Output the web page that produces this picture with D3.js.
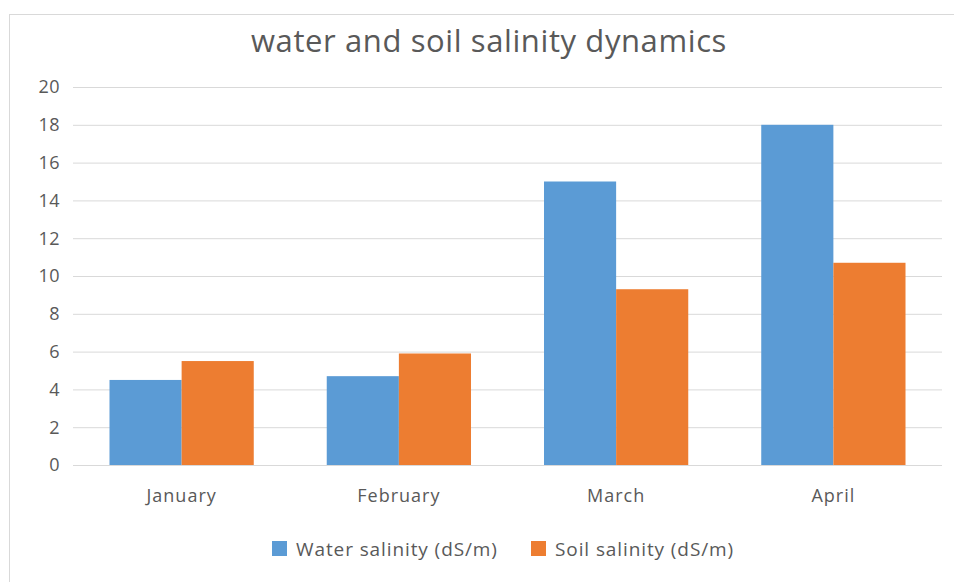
<html>
<head>
<meta charset="utf8">
<script src="https://cdn.jsdelivr.net/npm/d3@7"></script>
<style>
body { margin: 0; background: #fff; }
text { font-family: "Open Sans", "Noto Sans", sans-serif; }
</style>
</head>
<body>
<div id="canvas"></div>
<script>
const months = ["January", "February", "March", "April"];
const seriesNames = ["Water salinity (dS/m)", "Soil salinity (dS/m)"];
const water = [4.5, 4.7, 15, 18];
const soil = [5.5, 5.9, 9.3, 10.7];
const yTicks = [0, 2, 4, 6, 8, 10, 12, 14, 16, 18, 20];
const colors = ["#5b9bd5", "#ed7d31"];

const W = 954, H = 582;
const svg = d3.select("#canvas").append("svg")
    .attr("width", W)
    .attr("height", H);

// chart frame
svg.append("rect")
    .attr("x", 9.5).attr("y", 14.5)
    .attr("width", W).attr("height", H)
    .attr("fill", "#fff")
    .attr("stroke", "#d9d9d9");

const xScale = d3.scaleBand()
    .domain(months)
    .range([73, 942])
    .paddingInner(0.336)
    .paddingOuter(0.168);

const yScale = d3.scaleLinear()
    .domain([0, 20])
    .range([465, 87]);

const sub = d3.scaleBand()
    .domain([0, 1])
    .range([0, xScale.bandwidth()]);

// gridlines
svg.append("g")
    .selectAll("line")
    .data(yTicks)
    .join("line")
    .attr("x1", 73).attr("x2", 942)
    .attr("y1", d => yScale(d) + 0.5)
    .attr("y2", d => yScale(d) + 0.5)
    .attr("stroke", "#d9d9d9")
    .attr("stroke-width", 1);

// y labels
svg.append("g")
    .selectAll("text")
    .data(yTicks)
    .join("text")
    .attr("x", 60)
    .attr("y", d => yScale(d))
    .attr("dy", "0.35em")
    .attr("text-anchor", "end")
    .attr("font-size", "18px")
    .attr("letter-spacing", "0.5px")
    .attr("fill", "#595959")
    .text(d => d);

// bars
const series = [water, soil];
series.forEach((vals, s) => {
    svg.append("g")
        .selectAll("rect")
        .data(vals)
        .join("rect")
        .attr("x", (d, i) => xScale(months[i]) + sub(s))
        .attr("y", d => yScale(d))
        .attr("width", sub.bandwidth())
        .attr("height", d => yScale(0) - yScale(d))
        .attr("fill", colors[s]);
});

// x labels
svg.append("g")
    .selectAll("text")
    .data(months)
    .join("text")
    .attr("x", d => xScale(d) + xScale.bandwidth() / 2)
    .attr("y", 502)
    .attr("text-anchor", "middle")
    .attr("font-size", "18px")
    .attr("letter-spacing", "1px")
    .attr("fill", "#595959")
    .text(d => d);

// title
svg.append("text")
    .attr("x", 489)
    .attr("y", 52)
    .attr("text-anchor", "middle")
    .attr("font-size", "31px")
    .attr("letter-spacing", "0.6px")
    .attr("fill", "#595959")
    .text("water and soil salinity dynamics");

// legend
const legendX = [272, 531];
const legend = svg.append("g");
seriesNames.forEach((name, i) => {
    legend.append("rect")
        .attr("x", legendX[i]).attr("y", 541)
        .attr("width", 15).attr("height", 15)
        .attr("fill", colors[i]);
    legend.append("text")
        .attr("x", legendX[i] + 24)
        .attr("y", 549)
        .attr("dy", "0.35em")
        .attr("font-size", "19px")
        .attr("letter-spacing", "0.9px")
        .attr("fill", "#595959")
        .text(name);
});
</script>
</body>
</html>
